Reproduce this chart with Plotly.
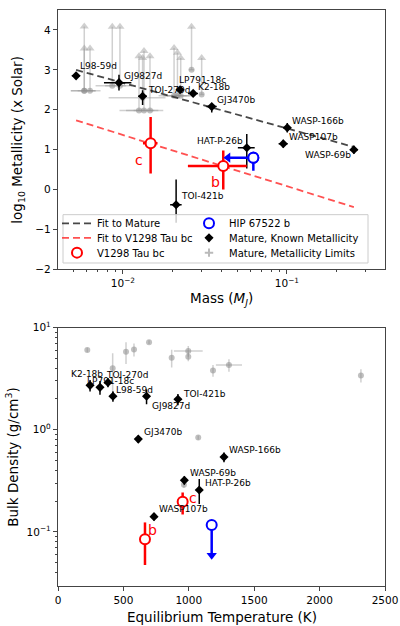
import numpy as np
import plotly.graph_objects as go

# ---------------- Top panel data: mass (M_J) vs log10 metallicity ----------------
mat_names = ["L98-59d", "GJ9827d", "TOI-270d", "LP791-18c", "K2-18b", "GJ3470b",
             "WASP-166b", "WASP107b", "WASP-69b", "HAT-P-26b", "TOI-421b"]
mat_mass = [0.00518, 0.00946, 0.01318, 0.0223, 0.0268, 0.0348, 0.1005, 0.095, 0.256, 0.0569, 0.0211]
mat_mass_err = [0.0003, 0.0018, 0.0008, 0.001, 0.0019, 0.0025, 0.0056, 0.006, 0.014, 0.0067, 0.0017]
mat_logz = [2.85, 2.68, 2.34, 2.50, 2.41, 2.08, 1.55, 1.15, 1.00, 1.05, -0.38]
mat_logz_hi = [0.08, 0.2, 0.15, 0.07, 0.07, 0.05, 0.12, 0.1, 0.1, 0.34, 0.63]
mat_logz_lo = [0.08, 0.2, 0.22, 0.07, 0.07, 0.15, 0.12, 0.1, 0.1, 0.52, 0.45]

lim_mass = [0.00581, 0.00581, 0.0063, 0.00861, 0.00959, 0.01318, 0.01253, 0.01344, 0.01462,
            0.0205, 0.0215, 0.0225, 0.0262, 0.0302]
lim_mass_err = [0.001, 0.001, 0.001, 0.0018, 0.0018, 0.005, 0.003, 0.003, 0.003,
                0.004, 0.004, 0.004, 0.001, 0.001]
lim_logz = [2.475, 2.475, 2.475, 2.60, 2.60, 2.30, 1.98, 1.98, 1.98, 2.35, 2.35, 2.35, 3.0, 2.38]
lim_arrow = [1.61, 1.06, 1.06, 1.48, 1.48, 1.0, 1.36, 1.49, 1.36, 1.2, 1.08, 0.95, 1.08, 0.92]

v_labels = ["c", "b"]
v_mass = [0.01475, 0.0409]
v_mass_err = [0.0015, 0.016]
v_logz = [1.16, 0.59]
v_logz_hi = [0.66, 0.39]
v_logz_lo = [0.76, 0.59]

hip_mass = [0.0624]
hip_mass_limit = [0.0437]
hip_logz = [0.80]
hip_logz_hi = [0.15]
hip_logz_lo = [0.33]

fit_mass = [0.00518, 0.256]
fit_mature_logz = [2.999, 1.068]
fit_v1298_logz = [1.735, -0.439]

# ---------------- Bottom panel data: Teq (K) vs bulk density ----------------
den_names = ["K2-18b", "LP791-18c", "TOI-270d", "L98-59d", "GJ9827d", "TOI-421b",
             "GJ3470b", "WASP-166b", "WASP-69b", "HAT-P-26b", "WASP107b"]
den_teq = [245, 321, 382, 420, 677, 917, 614, 1269, 966, 1080, 734]
den_teq_err = [12, 10, 10, 10, 15, 15, 10, 20, 15, 25, 10]
den_rho = [2.72, 2.6, 2.9, 2.13, 2.13, 1.99, 0.81, 0.54, 0.32, 0.257, 0.141]
den_rho_hi = [0.35, 0.4, 0.3, 0.25, 0.35, 0.25, 0.07, 0.06, 0.03, 0.072, 0.012]
den_rho_lo = [0.35, 0.4, 0.3, 0.25, 0.35, 0.25, 0.07, 0.06, 0.03, 0.07, 0.012]

dlim_teq = [224, 696, 520, 581, 869, 996, 996, 418, 1307, 1185, 2316, 1072, 963]
dlim_teq_err = [0, 0, 0, 0, 0, 110, 0, 0, 100, 0, 0, 0, 0]
dlim_rho = [6.03, 7.2, 5.8, 6.1, 5.07, 5.89, 5.19, 4.0, 4.3, 3.8, 3.4, 0.84, 0.29]
dlim_rho_err = [0.3, 0.3, 1.4, 0.9, 1.0, 0.7, 0.5, 1.6, 0.6, 0.5, 0.5, 0.04, 0.02]

v_teq = [953, 665]
v_rho = [0.197, 0.0847]
v_rho_hi = [0.046, 0.039]
v_rho_lo = [0.049, 0.0373]

hip_teq = [1175]
hip_rho = [0.117]
hip_rho_limit = [0.059]

# ---------------- styles ----------------
FONT = "DejaVu Sans"
RED = "#ff0000"
BLUE = "#0000ff"
GRAY_LINE = "rgba(150,150,150,0.45)"
GRAY_PT = "rgba(140,140,140,0.55)"


def py2paper(py):
    return (586 - py) / 584


def px2paper(px):
    return (px - 58) / 327


fig = go.Figure()

# --- top: gray limit points (error bars up as arrows)
fig.add_trace(go.Scatter(
    x=lim_mass, y=lim_logz, mode="markers", xaxis="x", yaxis="y",
    marker=dict(color=GRAY_PT, size=6),
    error_x=dict(type="data", array=lim_mass_err, color=GRAY_LINE, thickness=1.5, width=0),
    error_y=dict(type="data", array=lim_arrow, arrayminus=[0] * len(lim_arrow), symmetric=False,
                 color=GRAY_LINE, thickness=1.5, width=0),
    showlegend=False, hoverinfo="skip"))
fig.add_trace(go.Scatter(
    x=lim_mass, y=[a + b for a, b in zip(lim_logz, lim_arrow)], mode="markers",
    xaxis="x", yaxis="y", marker=dict(symbol="triangle-up", color=GRAY_LINE, size=8),
    showlegend=False, hoverinfo="skip"))

# --- fits and main series (each legend entry in its own positioned legend)
fig.add_trace(go.Scatter(x=fit_mass, y=fit_mature_logz, mode="lines", xaxis="x", yaxis="y",
                         line=dict(color="rgba(40,40,40,0.85)", width=1.8, dash="7px,4px"),
                         name="Fit to Mature", legend="legend"))
fig.add_trace(go.Scatter(x=fit_mass, y=fit_v1298_logz, mode="lines", xaxis="x", yaxis="y",
                         line=dict(color="rgba(255,50,50,0.85)", width=1.8, dash="7px,4px"),
                         name="Fit to V1298 Tau bc", legend="legend2"))
fig.add_trace(go.Scatter(x=hip_mass, y=hip_logz, mode="markers", xaxis="x", yaxis="y",
                         marker=dict(symbol="circle", size=10, color="white",
                                     line=dict(color=BLUE, width=2)),
                         error_y=dict(type="data", array=hip_logz_hi, arrayminus=hip_logz_lo,
                                      symmetric=False, color=BLUE, thickness=2.5, width=0),
                         name="HIP 67522 b", legend="legend4"))
fig.add_trace(go.Scatter(x=mat_mass, y=mat_logz, mode="markers", xaxis="x", yaxis="y",
                         marker=dict(symbol="diamond", size=7, color="black"),
                         error_x=dict(type="data", array=mat_mass_err, color="black",
                                      thickness=1.5, width=0),
                         error_y=dict(type="data", array=mat_logz_hi, arrayminus=mat_logz_lo,
                                      symmetric=False, color="black", thickness=1.5, width=0),
                         name="Mature, Known Metallicity", legend="legend5"))
fig.add_trace(go.Scatter(x=v_mass, y=v_logz, mode="markers", xaxis="x", yaxis="y",
                         marker=dict(symbol="circle", size=10, color="white",
                                     line=dict(color=RED, width=2)),
                         error_x=dict(type="data", array=v_mass_err, color=RED, thickness=2.5, width=0),
                         error_y=dict(type="data", array=v_logz_hi, arrayminus=v_logz_lo,
                                      symmetric=False, color=RED, thickness=2.5, width=0),
                         name="V1298 Tau bc", legend="legend3"))
fig.add_trace(go.Scatter(x=[None], y=[None], mode="markers", xaxis="x", yaxis="y",
                         marker=dict(color="rgba(140,140,140,0.6)", size=6, symbol="cross-thin",
                                     line=dict(color="rgba(140,140,140,0.6)", width=2)),
                         name="Mature, Metallicity Limits", legend="legend6"))

# HIP mass upper-limit arrow (top)
fig.add_trace(go.Scatter(x=[hip_mass[0], hip_mass_limit[0]], y=[hip_logz[0], hip_logz[0]],
                         mode="lines", xaxis="x", yaxis="y", line=dict(color=BLUE, width=2.5),
                         showlegend=False, hoverinfo="skip"))
fig.add_trace(go.Scatter(x=hip_mass_limit, y=hip_logz, mode="markers", xaxis="x", yaxis="y",
                         marker=dict(symbol="triangle-left", size=9, color=BLUE),
                         showlegend=False, hoverinfo="skip"))
fig.add_trace(go.Scatter(x=hip_mass, y=hip_logz, mode="markers", xaxis="x", yaxis="y",
                         marker=dict(symbol="circle", size=10, color="white",
                                     line=dict(color=BLUE, width=2)),
                         showlegend=False, hoverinfo="skip"))

# ---------------- bottom panel ----------------
fig.add_trace(go.Scatter(
    x=dlim_teq, y=dlim_rho, mode="markers", xaxis="x2", yaxis="y2",
    marker=dict(color=GRAY_PT, size=6),
    error_x=dict(type="data", array=dlim_teq_err, color=GRAY_LINE, thickness=1.5, width=0),
    error_y=dict(type="data", array=dlim_rho_err, color=GRAY_LINE, thickness=1.5, width=0),
    showlegend=False, hoverinfo="skip"))
fig.add_trace(go.Scatter(x=den_teq, y=den_rho, mode="markers", xaxis="x2", yaxis="y2",
                         marker=dict(symbol="diamond", size=7, color="black"),
                         error_x=dict(type="data", array=den_teq_err, color="black",
                                      thickness=1.5, width=0),
                         error_y=dict(type="data", array=den_rho_hi, arrayminus=den_rho_lo,
                                      symmetric=False, color="black", thickness=1.5, width=0),
                         showlegend=False))
fig.add_trace(go.Scatter(x=v_teq, y=v_rho, mode="markers", xaxis="x2", yaxis="y2",
                         marker=dict(symbol="circle", size=10, color="white",
                                     line=dict(color=RED, width=2)),
                         error_y=dict(type="data", array=v_rho_hi, arrayminus=v_rho_lo,
                                      symmetric=False, color=RED, thickness=2.5, width=0),
                         showlegend=False))
fig.add_trace(go.Scatter(x=[hip_teq[0], hip_teq[0]], y=[hip_rho[0], hip_rho_limit[0]],
                         mode="lines", xaxis="x2", yaxis="y2", line=dict(color=BLUE, width=2.5),
                         showlegend=False, hoverinfo="skip"))
fig.add_trace(go.Scatter(x=hip_teq, y=hip_rho_limit, mode="markers", xaxis="x2", yaxis="y2",
                         marker=dict(symbol="triangle-down", size=9, color=BLUE),
                         showlegend=False, hoverinfo="skip"))
fig.add_trace(go.Scatter(x=hip_teq, y=hip_rho, mode="markers", xaxis="x2", yaxis="y2",
                         marker=dict(symbol="circle", size=10, color="white",
                                     line=dict(color=BLUE, width=2)),
                         showlegend=False, hoverinfo="skip"))

# ---------------- labels ----------------
top_label_pos = {
    "L98-59d": ("left", 2, 9.5), "GJ9827d": ("left", 3, 7), "TOI-270d": ("left", 3, 6.6),
    "LP791-18c": ("left", -2.7, 10), "K2-18b": ("left", 3, 6), "GJ3470b": ("left", 3, 7),
    "WASP-166b": ("left", 3, 7), "WASP107b": ("left", 4, 7), "WASP-69b": ("right", -1, -5),
    "HAT-P-26b": ("right", -1.7, 6.4), "TOI-421b": ("left", 3, 9),
}
bot_label_pos = {n: ("left", 3.4, 7.4) for n in den_names}
bot_label_pos.update({
    "K2-18b": ("right", 15, 11), "LP791-18c": ("left", -15, 6), "TOI-270d": ("left", -4, 7),
    "L98-59d": ("left", 1, 6), "GJ9827d": ("left", 3.5, -10), "TOI-421b": ("left", 3, 5),
})

annotations = []
for n, m, z in zip(mat_names, mat_mass, mat_logz):
    xa, xs, ys = top_label_pos[n]
    annotations.append(dict(x=np.log10(m), y=z, xref="x", yref="y", text=n, showarrow=False,
                            xanchor=xa, yanchor="middle", xshift=xs, yshift=ys,
                            font=dict(family=FONT, size=9, color="black")))
for n, t, r in zip(den_names, den_teq, den_rho):
    xa, xs, ys = bot_label_pos[n]
    annotations.append(dict(x=t, y=np.log10(r), xref="x2", yref="y2", text=n, showarrow=False,
                            xanchor=xa, yanchor="middle", xshift=xs, yshift=ys,
                            font=dict(family=FONT, size=9, color="black")))
top_v_shift = {"c": (-12, -17), "b": (-8, -16)}
for lab, m, z in zip(v_labels, v_mass, v_logz):
    xs, ys = top_v_shift[lab]
    annotations.append(dict(x=np.log10(m), y=z, xref="x", yref="y", text=lab, showarrow=False,
                            xanchor="center", yanchor="middle", xshift=xs, yshift=ys,
                            font=dict(family=FONT, size=14, color=RED)))
bot_v_shift = {"c": (10, 4), "b": (8, 9)}
for lab, t, r in zip(v_labels, v_teq, v_rho):
    xs, ys = bot_v_shift[lab]
    annotations.append(dict(x=t, y=np.log10(r), xref="x2", yref="y2", text=lab, showarrow=False,
                            xanchor="center", yanchor="middle", xshift=xs, yshift=ys,
                            font=dict(family=FONT, size=14, color=RED)))

# axis titles
TITLE = dict(family=FONT, size=13.5, color="black")
annotations += [
    dict(text="Mass (<i>M<sub>J</sub></i>)", x=0.5, y=py2paper(295), xref="paper", yref="paper",
         showarrow=False, xanchor="center", yanchor="middle", font=TITLE),
    dict(text="log<sub>10</sub> Metallicity (x Solar)", x=px2paper(18), y=py2paper(133.5),
         xref="paper", yref="paper", showarrow=False, textangle=-90, xanchor="center",
         yanchor="middle", font=TITLE),
    dict(text="Equilibrium Temperature (K)", x=0.5, y=py2paper(617), xref="paper", yref="paper",
         showarrow=False, xanchor="center", yanchor="middle", font=TITLE),
    dict(text="Bulk Density (g/cm<sup>3</sup>)", x=px2paper(12), y=py2paper(455),
         xref="paper", yref="paper", showarrow=False, textangle=-90, xanchor="center",
         yanchor="middle", font=TITLE),
]

TICKF = dict(family=FONT, size=10.5, color="black")
axis_common = dict(showgrid=False, zeroline=False, showline=True, mirror=True, linecolor="#444",
                   linewidth=1.2, ticks="outside", ticklen=4, tickwidth=1, tickcolor="#444",
                   tickfont=TICKF)

minor_mass = [0.005, 0.006, 0.007, 0.008, 0.009, 0.02, 0.03, 0.04, 0.05, 0.06, 0.07, 0.08, 0.09,
              0.2, 0.3]
minor_rho = [0.04, 0.05, 0.06, 0.07, 0.08, 0.09, 0.2, 0.3, 0.4, 0.5, 0.6, 0.7, 0.8, 0.9,
             2, 3, 4, 5, 6, 7, 8, 9]

# legend frame (shared box for the six single-entry legends)
shapes = [dict(type="rect", xref="paper", yref="paper", x0=px2paper(63), x1=px2paper(368),
               y0=py2paper(258.5), y1=py2paper(209.5), fillcolor="rgba(255,255,255,0.8)",
               line=dict(color="#cccccc", width=1), layer="above")]

LEGF = dict(family=FONT, size=10, color="black")
row_y = [218.3, 233.0, 248.0]
col_x = [57, 189]
legends = {}
names = ["legend", "legend2", "legend3", "legend4", "legend5", "legend6"]
for i, nm in enumerate(names):
    col = i // 3
    row = i % 3
    legends[nm] = dict(x=px2paper(col_x[col]), y=py2paper(row_y[row]), xanchor="left",
                       yanchor="middle", bgcolor="rgba(0,0,0,0)", borderwidth=0,
                       font=LEGF, itemwidth=30, orientation="v")

fig.update_layout(
    width=400, height=626, margin=dict(l=58, r=15, t=2, b=40),
    paper_bgcolor="white", plot_bgcolor="white",
    font=dict(family=FONT, color="black"),
    xaxis=dict(type="log", range=[-2.396, -0.402], domain=[0, 1], anchor="y",
               tickvals=[0.01, 0.1], ticktext=["10<sup>−2</sup>", "10<sup>−1</sup>"],
               minor=dict(tickvals=minor_mass, ticklen=2, ticks="outside", tickcolor="#444"),
               **axis_common),
    yaxis=dict(range=[-2, 4.5], domain=[py2paper(265), 1], anchor="x",
               tickvals=[-2, -1, 0, 1, 2, 3, 4], ticktext=["−2", "−1", "0", "1", "2", "3", "4"],
               **axis_common),
    xaxis2=dict(range=[0, 2500], domain=[0, 1], anchor="y2", tickvals=[0, 500, 1000, 1500, 2000, 2500],
                **axis_common),
    yaxis2=dict(type="log", range=[-1.53, 1], domain=[0, py2paper(324)], anchor="x2",
                tickvals=[0.1, 1, 10], ticktext=["10<sup>−1</sup>", "10<sup>0</sup>", "10<sup>1</sup>"],
                minor=dict(tickvals=minor_rho, ticklen=2, ticks="outside", tickcolor="#444"),
                **axis_common),
    shapes=shapes,
    annotations=annotations,
    showlegend=True,
    **legends,
)

fig.write_html("out.html")
